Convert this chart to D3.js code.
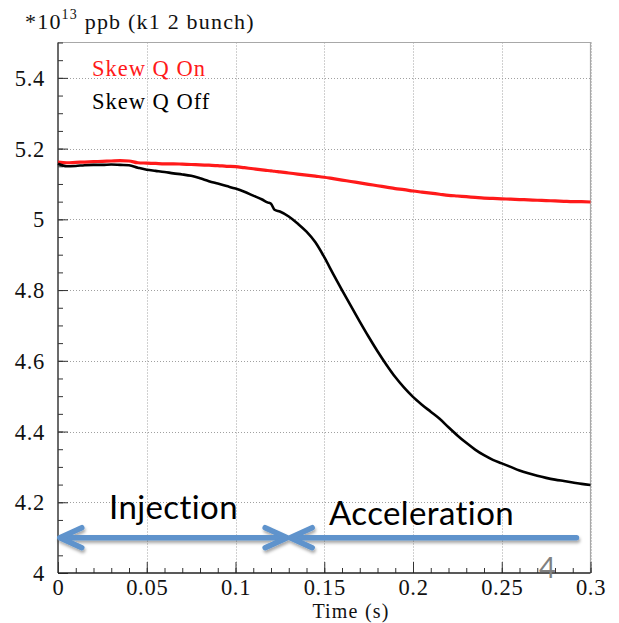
<!DOCTYPE html>
<html>
<head>
<meta charset="utf-8">
<script src="https://cdn.jsdelivr.net/npm/d3@7"></script>
<style>
  html, body { margin: 0; padding: 0; background: #fff; }
  svg { display: block; }
</style>
</head>
<body>
<svg id="chart" width="619" height="623"></svg>
<script>
// ---------- data ----------
const timeS = [0,0.005,0.01,0.015,0.02,0.025,0.03,0.035,0.04,0.045,0.05,0.055,0.06,0.065,0.07,0.075,0.08,0.085,0.09,0.095,0.1,0.105,0.11,0.115,0.118,0.12,0.122,0.125,0.13,0.135,0.14,0.145,0.15,0.155,0.16,0.165,0.17,0.175,0.18,0.185,0.19,0.195,0.2,0.205,0.21,0.215,0.22,0.225,0.23,0.235,0.24,0.245,0.25,0.255,0.26,0.265,0.27,0.275,0.28,0.285,0.29,0.295,0.3];
const skewQOn  = [5.162,5.160,5.161,5.162,5.163,5.164,5.165,5.166,5.165,5.160,5.159,5.158,5.157,5.157,5.156,5.155,5.154,5.153,5.152,5.150,5.149,5.146,5.143,5.140,5.138,5.137,5.136,5.134,5.131,5.128,5.125,5.122,5.119,5.115,5.111,5.107,5.103,5.099,5.095,5.091,5.087,5.084,5.080,5.077,5.074,5.071,5.068,5.066,5.064,5.062,5.060,5.059,5.058,5.057,5.056,5.055,5.054,5.053,5.052,5.051,5.050,5.050,5.049];
const skewQOff = [5.157,5.150,5.151,5.153,5.154,5.154,5.155,5.154,5.153,5.146,5.140,5.137,5.134,5.130,5.127,5.123,5.116,5.108,5.101,5.094,5.087,5.078,5.067,5.056,5.048,5.044,5.027,5.022,5.008,4.988,4.965,4.935,4.893,4.846,4.800,4.755,4.711,4.668,4.627,4.589,4.554,4.524,4.498,4.476,4.456,4.436,4.412,4.389,4.368,4.349,4.333,4.320,4.310,4.300,4.290,4.282,4.275,4.269,4.264,4.260,4.256,4.252,4.249];
const xTicks = [0, 0.05, 0.1, 0.15, 0.2, 0.25, 0.3];
const xTickLabels = ["0", "0.05", "0.1", "0.15", "0.2", "0.25", "0.3"];
const yTicks = [4, 4.2, 4.4, 4.6, 4.8, 5, 5.2, 5.4];
const yTickLabels = ["4", "4.2", "4.4", "4.6", "4.8", "5", "5.2", "5.4"];
const seriesNames = ["Skew Q On", "Skew Q Off"];
const seriesColors = ["#ff1a1a", "#000000"];
const phaseNames = ["Injection", "Acceleration"];
const phaseStart = [0.001, 0.1308];
const phaseEnd = [0.1291, 0.2921];
const phaseLevel = 4.1;
const pageNumber = "4";

// ---------- layout ----------
const svg = d3.select("#chart");
const L = 58, R = 590.5, T = 42.5, B = 573;
const x = d3.scaleLinear().domain([0, 0.3]).range([L, R]);
const y = d3.scaleLinear().domain([4, 5.5]).range([B, T]);
const serif = "'Liberation Serif', 'Times New Roman', serif";

// shadow filter for arrows
const defs = svg.append("defs");
const f = defs.append("filter").attr("id", "shadow").attr("x", "-10%").attr("y", "-50%").attr("width", "120%").attr("height", "200%");
f.append("feDropShadow").attr("dx", 1).attr("dy", 2.5).attr("stdDeviation", 1.6).attr("flood-color", "#000").attr("flood-opacity", 0.35);

// grid
const grid = svg.append("g").attr("stroke", "#a0a0a0").attr("stroke-width", 1).attr("stroke-dasharray", "1,2");
grid.selectAll("line.v").data(xTicks.slice(1)).join("line")
  .attr("x1", d => Math.round(x(d)) + 0.5).attr("x2", d => Math.round(x(d)) + 0.5)
  .attr("y1", T).attr("y2", B);
grid.selectAll("line.h").data(yTicks.slice(1)).join("line")
  .attr("y1", d => Math.round(y(d)) + 0.5).attr("y2", d => Math.round(y(d)) + 0.5)
  .attr("x1", L).attr("x2", R);

// frame top/right (light)
svg.append("path").attr("d", `M${L},${T}H${R}V${B}`).attr("fill", "none").attr("stroke", "#a8a8a8").attr("stroke-width", 1.2);

// axes via d3
const xAxisMinor = d3.axisBottom(x).tickValues(d3.range(0, 0.3001, 0.01)).tickSize(-5).tickFormat("");
const xAxisMajor = d3.axisBottom(x).tickValues(xTicks).tickSize(-11).tickPadding(14)
  .tickFormat((d, i) => xTickLabels[i]);
const yAxisMinor = d3.axisLeft(y).tickValues(d3.range(4, 5.5001, 0.05)).tickSize(-5).tickFormat("");
const yAxisMajor = d3.axisLeft(y).tickValues(yTicks).tickSize(-10).tickPadding(14)
  .tickFormat((d, i) => yTickLabels[i]);

function styleAxis(g) {
  g.attr("font-family", serif).attr("font-size", 22);
  g.select(".domain").remove();
  g.selectAll(".tick line").attr("stroke", "#333").attr("stroke-width", 1);
  g.selectAll("text").style("font-family", serif).style("font-size", "22.5px")
    .style("letter-spacing", "0.7px").attr("fill", "#111");
}
svg.append("g").attr("transform", `translate(0,${B})`).call(xAxisMinor).call(styleAxis);
svg.append("g").attr("transform", `translate(0,${B})`).call(xAxisMajor).call(styleAxis)
  .selectAll("text").attr("dy", null).attr("y", 22);
svg.append("g").attr("transform", `translate(${L},0)`).call(yAxisMinor).call(styleAxis);
svg.append("g").attr("transform", `translate(${L},0)`).call(yAxisMajor).call(styleAxis)
  .selectAll("text").attr("x", -13).attr("dy", "0.34em");

// axis lines
svg.append("line").attr("x1", L).attr("x2", L).attr("y1", T).attr("y2", B).attr("stroke", "#3a3a3a").attr("stroke-width", 1.5);
svg.append("line").attr("x1", L).attr("x2", R).attr("y1", B).attr("y2", B).attr("stroke", "#222").attr("stroke-width", 1.5);

// series
const line = d3.line().x((d, i) => x(timeS[i])).y(d => y(d)).curve(d3.curveMonotoneX);
svg.append("path").datum(skewQOn).attr("d", line).attr("fill", "none")
  .attr("stroke", seriesColors[0]).attr("stroke-width", 3.2);
svg.append("path").datum(skewQOff).attr("d", line).attr("fill", "none")
  .attr("stroke", seriesColors[1]).attr("stroke-width", 2.6);

// legend
svg.selectAll("text.legend").data(seriesNames).join("text")
  .attr("x", 92).attr("y", (d, i) => 76 + i * 33)
  .style("font-family", serif).style("font-size", "22.5px").style("letter-spacing", "1px")
  .attr("fill", (d, i) => seriesColors[i])
  .text(d => d);

// title
const title = svg.append("text").attr("x", 25).attr("y", 29)
  .style("font-family", serif).style("font-size", "22px").style("letter-spacing", "1.2px").attr("fill", "#111");
title.append("tspan").text("*10");
title.append("tspan").style("font-size", "14px").attr("dy", -10).text("13");
title.append("tspan").attr("dy", 10).text(" ppb (k1 2 bunch)");

// x axis title
svg.append("text").attr("x", 351).attr("y", 618).attr("text-anchor", "middle")
  .style("font-family", serif).style("font-size", "20px").style("letter-spacing", "1.2px")
  .attr("fill", "#111").text("Time (s)");

// phase arrows
const blue = "#5e93cc";
const ay = y(phaseLevel);
const arr = svg.append("g").attr("filter", "url(#shadow)").attr("stroke", blue).attr("stroke-width", 5.5)
  .attr("stroke-linecap", "round").attr("stroke-linejoin", "round").attr("fill", "none");
// injection: double-headed
arr.append("line").attr("x1", x(phaseStart[0]) + 2).attr("x2", x(phaseEnd[0]) - 2).attr("y1", ay).attr("y2", ay);
arr.append("polyline").attr("points", `${x(phaseStart[0]) + 22},${ay - 10} ${x(phaseStart[0])},${ay} ${x(phaseStart[0]) + 22},${ay + 10}`);
arr.append("polyline").attr("points", `${x(phaseEnd[0]) - 22},${ay - 10} ${x(phaseEnd[0])},${ay} ${x(phaseEnd[0]) - 22},${ay + 10}`);
// acceleration: left-headed
arr.append("line").attr("x1", x(phaseStart[1]) + 2).attr("x2", x(phaseEnd[1])).attr("y1", ay).attr("y2", ay);
arr.append("polyline").attr("points", `${x(phaseStart[1]) + 22},${ay - 10} ${x(phaseStart[1])},${ay} ${x(phaseStart[1]) + 22},${ay + 10}`);

const sans = "Lato, 'Open Sans', sans-serif";
svg.append("text").attr("x", 109).attr("y", 519).style("font-family", sans).style("font-size", "33px")
  .style("letter-spacing", "0.4px").attr("fill", "#000").text(phaseNames[0]);
svg.append("text").attr("x", 329).attr("y", 525).style("font-family", sans).style("font-size", "33px")
  .style("letter-spacing", "0.4px").attr("fill", "#000").text(phaseNames[1]);

// page number
svg.append("text").attr("x", 539).attr("y", 578).style("font-family", sans).style("font-size", "29px")
  .attr("fill", "#808080").text(pageNumber);
</script>
</body>
</html>
